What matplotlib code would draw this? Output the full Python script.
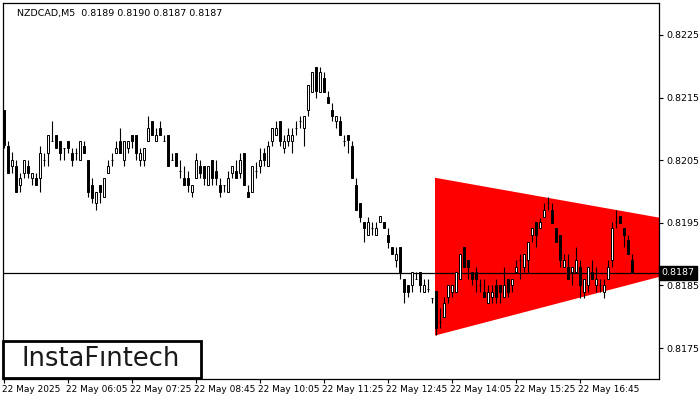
import matplotlib.pyplot as plt
import matplotlib.transforms as mtransforms
from matplotlib.patches import Rectangle, Polygon

# NZDCAD M5 candles
opens = [0.82130, 0.82072, 0.82040, 0.82041, 0.82010, 0.82030, 0.82041, 0.82022, 0.82022, 0.82022,
         0.82050, 0.82061, 0.82081, 0.82090, 0.82080, 0.82070, 0.82080, 0.82061, 0.82061, 0.82050,
         0.82072, 0.82050, 0.82010, 0.81982, 0.82010, 0.81992, 0.82030, 0.82050, 0.82061, 0.82080,
         0.82050, 0.82070, 0.82090, 0.82090, 0.82050, 0.82050, 0.82080, 0.82112, 0.82080, 0.82101,
         0.82080, 0.82090, 0.82050, 0.82061, 0.82032, 0.82021, 0.82021, 0.82000, 0.82021, 0.82041,
         0.82041, 0.82010, 0.82050, 0.82032, 0.82010, 0.82010, 0.82000, 0.82030, 0.82032, 0.82030,
         0.82061, 0.82000, 0.82000, 0.82032, 0.82040, 0.82061, 0.82040, 0.82081, 0.82091, 0.82112,
         0.82070, 0.82081, 0.82081, 0.82101, 0.82112, 0.82101, 0.82130, 0.82159, 0.82199, 0.82159,
         0.82181, 0.82151, 0.82130, 0.82112, 0.82112, 0.82081, 0.82090, 0.82072, 0.82010, 0.81981,
         0.81952, 0.81931, 0.81941, 0.81931, 0.81951, 0.81951, 0.81931, 0.81912, 0.81891, 0.81912,
         0.81861, 0.81851, 0.81851, 0.81861, 0.81872, 0.81840, 0.81845, 0.81830, 0.81841, 0.81792,
         0.81800, 0.81832, 0.81840, 0.81840, 0.81861, 0.81912, 0.81891, 0.81872, 0.81872, 0.81851,
         0.81840, 0.81822, 0.81832, 0.81851, 0.81851, 0.81832, 0.81861, 0.81851, 0.81872, 0.81891,
         0.81880, 0.81891, 0.81931, 0.81952, 0.81941, 0.81960, 0.81981, 0.81971, 0.81941, 0.81931,
         0.81880, 0.81880, 0.81872, 0.81872, 0.81880, 0.81840, 0.81851, 0.81872, 0.81851, 0.81851,
         0.81840, 0.81861, 0.81891, 0.81952, 0.81961, 0.81941, 0.81922, 0.81890]
highs = [0.82130, 0.82081, 0.82063, 0.82050, 0.82030, 0.82050, 0.82050, 0.82030, 0.82030, 0.82072,
         0.82061, 0.82090, 0.82112, 0.82090, 0.82080, 0.82070, 0.82080, 0.82070, 0.82070, 0.82080,
         0.82080, 0.82050, 0.82022, 0.82000, 0.82010, 0.82021, 0.82050, 0.82061, 0.82080, 0.82101,
         0.82080, 0.82080, 0.82090, 0.82090, 0.82070, 0.82070, 0.82121, 0.82112, 0.82101, 0.82112,
         0.82090, 0.82090, 0.82061, 0.82061, 0.82050, 0.82041, 0.82032, 0.82010, 0.82061, 0.82050,
         0.82041, 0.82041, 0.82050, 0.82050, 0.82021, 0.82010, 0.82032, 0.82041, 0.82050, 0.82061,
         0.82061, 0.82010, 0.82041, 0.82047, 0.82069, 0.82069, 0.82081, 0.82102, 0.82112, 0.82112,
         0.82090, 0.82101, 0.82101, 0.82112, 0.82120, 0.82120, 0.82170, 0.82191, 0.82199, 0.82199,
         0.82191, 0.82161, 0.82141, 0.82120, 0.82120, 0.82090, 0.82090, 0.82081, 0.82021, 0.81981,
         0.81952, 0.81960, 0.81952, 0.81952, 0.81961, 0.81951, 0.81941, 0.81912, 0.81912, 0.81912,
         0.81861, 0.81851, 0.81872, 0.81872, 0.81872, 0.81861, 0.81861, 0.81830, 0.81841, 0.81814,
         0.81832, 0.81851, 0.81851, 0.81872, 0.81901, 0.81912, 0.81891, 0.81872, 0.81880, 0.81861,
         0.81861, 0.81851, 0.81851, 0.81861, 0.81851, 0.81880, 0.81861, 0.81861, 0.81891, 0.81901,
         0.81901, 0.81920, 0.81941, 0.81952, 0.81958, 0.81981, 0.81992, 0.81981, 0.81941, 0.81931,
         0.81901, 0.81901, 0.81880, 0.81912, 0.81891, 0.81861, 0.81880, 0.81891, 0.81880, 0.81861,
         0.81861, 0.81891, 0.81952, 0.81971, 0.81961, 0.81941, 0.81931, 0.81900]
lows = [0.82070, 0.82030, 0.82030, 0.82000, 0.82000, 0.82022, 0.82022, 0.82010, 0.82010, 0.82000,
        0.82040, 0.82041, 0.82080, 0.82070, 0.82050, 0.82050, 0.82061, 0.82041, 0.82050, 0.82050,
        0.82061, 0.81992, 0.81982, 0.81971, 0.81982, 0.81992, 0.82030, 0.82040, 0.82061, 0.82061,
        0.82040, 0.82061, 0.82070, 0.82050, 0.82041, 0.82041, 0.82080, 0.82090, 0.82080, 0.82090,
        0.82080, 0.82040, 0.82050, 0.82040, 0.82021, 0.82010, 0.82000, 0.81992, 0.82021, 0.82021,
        0.82010, 0.82010, 0.82010, 0.82010, 0.81992, 0.82000, 0.82000, 0.82021, 0.82021, 0.82021,
        0.82010, 0.81992, 0.82000, 0.82021, 0.82030, 0.82040, 0.82040, 0.82072, 0.82091, 0.82072,
        0.82061, 0.82072, 0.82061, 0.82090, 0.82101, 0.82072, 0.82120, 0.82159, 0.82150, 0.82159,
        0.82159, 0.82141, 0.82112, 0.82101, 0.82090, 0.82072, 0.82061, 0.82021, 0.81971, 0.81952,
        0.81920, 0.81931, 0.81931, 0.81931, 0.81951, 0.81941, 0.81910, 0.81901, 0.81880, 0.81861,
        0.81822, 0.81832, 0.81840, 0.81861, 0.81840, 0.81840, 0.81840, 0.81822, 0.81771, 0.81782,
        0.81800, 0.81822, 0.81832, 0.81840, 0.81861, 0.81880, 0.81861, 0.81851, 0.81840, 0.81840,
        0.81832, 0.81822, 0.81822, 0.81822, 0.81822, 0.81832, 0.81832, 0.81840, 0.81872, 0.81861,
        0.81872, 0.81870, 0.81920, 0.81912, 0.81941, 0.81960, 0.81971, 0.81950, 0.81920, 0.81880,
        0.81880, 0.81861, 0.81851, 0.81872, 0.81830, 0.81830, 0.81840, 0.81861, 0.81840, 0.81840,
        0.81830, 0.81861, 0.81880, 0.81941, 0.81950, 0.81912, 0.81901, 0.81870]
closes = [0.82075, 0.82030, 0.82050, 0.82000, 0.82022, 0.82050, 0.82030, 0.82030, 0.82010, 0.82061,
          0.82050, 0.82090, 0.82080, 0.82070, 0.82061, 0.82070, 0.82070, 0.82050, 0.82061, 0.82080,
          0.82061, 0.82000, 0.81990, 0.82000, 0.82000, 0.82021, 0.82041, 0.82050, 0.82070, 0.82061,
          0.82080, 0.82080, 0.82080, 0.82061, 0.82061, 0.82070, 0.82101, 0.82090, 0.82090, 0.82090,
          0.82080, 0.82040, 0.82050, 0.82040, 0.82032, 0.82010, 0.82010, 0.82010, 0.82050, 0.82030,
          0.82021, 0.82041, 0.82021, 0.82021, 0.82000, 0.82010, 0.82021, 0.82041, 0.82021, 0.82050,
          0.82010, 0.81992, 0.82041, 0.82032, 0.82050, 0.82050, 0.82072, 0.82102, 0.82102, 0.82081,
          0.82081, 0.82090, 0.82090, 0.82101, 0.82112, 0.82120, 0.82170, 0.82191, 0.82161, 0.82191,
          0.82159, 0.82141, 0.82120, 0.82120, 0.82090, 0.82081, 0.82082, 0.82021, 0.81971, 0.81960,
          0.81941, 0.81952, 0.81941, 0.81941, 0.81961, 0.81941, 0.81920, 0.81901, 0.81901, 0.81872,
          0.81840, 0.81840, 0.81872, 0.81861, 0.81851, 0.81851, 0.81845, 0.81830, 0.81782, 0.81792,
          0.81822, 0.81851, 0.81851, 0.81872, 0.81901, 0.81880, 0.81880, 0.81861, 0.81861, 0.81851,
          0.81832, 0.81840, 0.81840, 0.81832, 0.81840, 0.81851, 0.81840, 0.81861, 0.81880, 0.81891,
          0.81901, 0.81920, 0.81941, 0.81931, 0.81952, 0.81971, 0.81981, 0.81950, 0.81920, 0.81891,
          0.81891, 0.81861, 0.81880, 0.81891, 0.81851, 0.81861, 0.81880, 0.81861, 0.81861, 0.81851,
          0.81851, 0.81880, 0.81941, 0.81952, 0.81950, 0.81931, 0.81901, 0.81870]

# symmetrical triangle pattern (bar index, price)
tri_x = [107.75, 107.75, 197.5]
tri_y = [0.82022, 0.81770, 0.81920]

last_price = 0.8187
title = 'NZDCAD,M5  0.8189 0.8190 0.8187 0.8187'
tick_bars = [0, 16, 32, 48, 64, 80, 96, 112, 128, 144]
tick_labels = ['22 May 2025', '22 May 06:05', '22 May 07:25', '22 May 08:45', '22 May 10:05',
               '22 May 11:25', '22 May 12:45', '22 May 14:05', '22 May 15:25', '22 May 16:45']
price_ticks = [0.8175, 0.8185, 0.8195, 0.8205, 0.8215, 0.8225]

fig = plt.figure(figsize=(7, 4), dpi=100)
ax = fig.add_axes([3 / 700, 1 - 379 / 400, 656 / 700, 376 / 400])
ax.set_xlim(-0.25, 163.75)
ax.set_ylim(0.817006, 0.823011)

ax.add_patch(Polygon(list(zip(tri_x, tri_y)), closed=True, facecolor='#ff0000',
                     edgecolor='none', zorder=1))

ax.axhline(last_price, color='black', lw=0.9, zorder=2)

for i in range(len(opens)):
    o, h, l, c = opens[i], highs[i], lows[i], closes[i]
    ax.plot([i, i], [l, h], color='black', lw=0.8, zorder=3, solid_capstyle='butt')
    fc = 'white' if c >= o else 'black'
    ax.add_patch(Rectangle((i - 0.27, min(o, c)), 0.54, abs(c - o), facecolor=fc,
                           edgecolor='black', lw=0.7, zorder=4))

for s in ax.spines.values():
    s.set_color('black')
    s.set_linewidth(0.9)

ax.yaxis.tick_right()
ax.set_yticks(price_ticks)
ax.set_yticklabels(['%.4f' % p for p in price_ticks])
ax.set_xticks(tick_bars)
ax.set_xticklabels(tick_labels, ha='left')
ax.tick_params(axis='both', direction='out', length=3, width=0.8, labelsize=6.8,
               colors='black', pad=2)
ax.tick_params(axis='x', pad=1, labelsize=6.5)
offset = mtransforms.ScaledTranslation(-1.5 / 100, 0, fig.dpi_scale_trans)
for lbl in ax.get_xticklabels():
    lbl.set_transform(lbl.get_transform() + offset)

trans = mtransforms.blended_transform_factory(ax.transAxes, ax.transData)
ax.text(1.004, last_price, '%.4f' % last_price, transform=trans, ha='left', va='center',
        color='white', fontsize=6.8, zorder=10,
        bbox=dict(boxstyle='square,pad=0.25', facecolor='black', edgecolor='black'))

ax.text(0.021, 0.985, title, transform=ax.transAxes, ha='left', va='top', fontsize=6.8)

# logo box
fig.patches.append(Rectangle((3 / 700, 1 - 378 / 400), 198 / 700, 37 / 400,
                             transform=fig.transFigure, facecolor='white',
                             edgecolor='black', lw=2, zorder=20))
fig.text(101 / 700, 1 - 359 / 400, 'InstaF\u0131ntech', ha='center', va='center',
         fontsize=18.5, color='#1a1a1a', zorder=21)

fig.savefig('out.png', dpi=100)
